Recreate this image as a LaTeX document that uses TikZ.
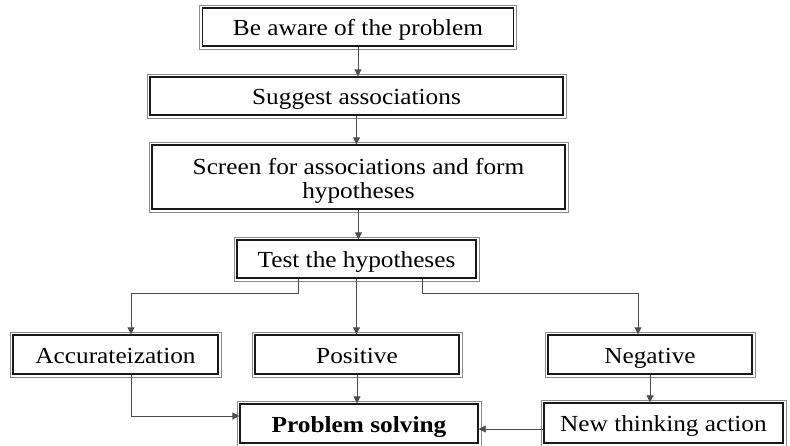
\documentclass[tikz,border=0pt]{standalone}
\usepackage{fontspec}
\setmainfont{Liberation Serif}[FakeStretch=1.1]
\usetikzlibrary{arrows.meta}
\begin{document}
\begin{tikzpicture}[x=1pt,y=-1pt,
  box/.style={draw=black!90, line width=1.4pt, fill=white,
    inner sep=0pt, font=\fontsize{23}{24}\selectfont, text=black, text height=19pt, text depth=1.6pt},
  multibox/.style={box, text height={}, text depth={}, align=center},
  rim/.style={draw=black!45, line width=0.7pt},
  arr/.style={draw=black!70, line width=0.9pt, -{Triangle[length=7pt,width=7pt]}}]
\useasboundingbox (0,0) rectangle (790,445);
\node[box, minimum width=311pt, minimum height=38pt] (b1) at (358,27) {Be aware of the problem};
\node[box, minimum width=413pt, minimum height=38pt] (b2) at (356.5,96) {Suggest associations};
\node[multibox, minimum width=413pt, minimum height=64pt] (b3) at (358.5,177) {\rule{0pt}{23pt}Screen for associations and form\\hypotheses};
\node[box, minimum width=239pt, minimum height=38pt] (b4) at (356.5,259) {Test the hypotheses};
\node[box, minimum width=205pt, minimum height=39pt] (acc) at (115.5,354.5) {Accurateization};
\node[box, minimum width=204pt, minimum height=39pt] (pos) at (357,354.5) {Positive};
\node[box, minimum width=204pt, minimum height=39pt] (neg) at (650,354.5) {Negative};
\node[box, minimum width=238pt, minimum height=39pt] (ps) at (359,423.5) {\bfseries Problem solving};
\node[box, minimum width=239pt, minimum height=40pt] (nta) at (663.5,423) {New thinking action};
\foreach \n in {b1,b2,b3,b4,acc,pos,neg,ps,nta}
  \draw[rim] ([shift={(-2.2pt,-2.2pt)}]\n.south west) rectangle ([shift={(2.2pt,2.2pt)}]\n.north east);
\coordinate (l1) at (298,293);
\coordinate (l2) at (131,293);
\coordinate (r1) at (422,293);
\coordinate (r2) at (638,293);
\coordinate (ad) at (131,416);
\draw[arr] (b1.south) -- (b1.south |- b2.north);
\draw[arr] (b2.south) -- (b2.south |- b3.north);
\draw[arr] (b3.south) -- (b3.south |- b4.north);
\draw[arr] (l1 |- b4.south) -- (l1) -- (l2) -- (l2 |- acc.north);
\draw[arr] (b4.south) -- (b4.south |- pos.north);
\draw[arr] (r1 |- b4.south) -- (r1) -- (r2) -- (r2 |- neg.north);
\draw[arr] (pos.south) -- (pos.south |- ps.north);
\draw[arr] (ad |- acc.south) -- (ad) -- (ad -| ps.west);
\draw[arr] (neg.south) -- (neg.south |- nta.north);
\draw[arr] ([yshift=-6pt]nta.west) -- ([yshift=-6pt]nta.west -| ps.east);
\end{tikzpicture}
\end{document}
